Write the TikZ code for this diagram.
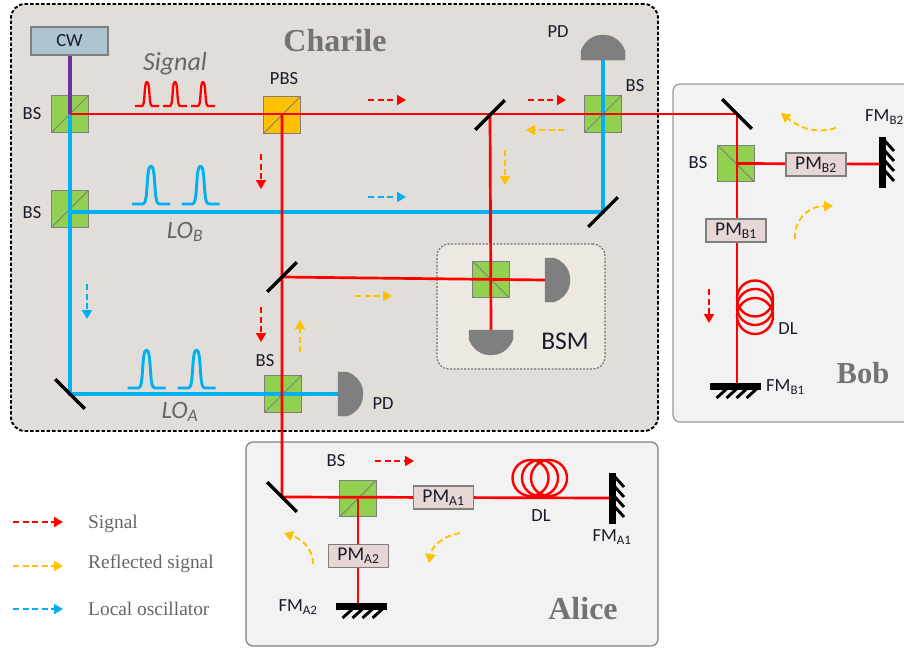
\documentclass[tikz,border=0pt]{standalone}
\usepackage{fontspec}
\setmainfont{Carlito}
\newfontfamily\serifl{Liberation Serif}
\usetikzlibrary{arrows.meta,calc}
\definecolor{cred}{HTML}{FF0000}
\definecolor{ccyan}{HTML}{00B0F0}
\definecolor{cyel}{HTML}{FFC000}
\definecolor{cpur}{HTML}{7030A0}
\definecolor{cgrn}{HTML}{92D050}
\definecolor{cedge}{HTML}{7F7F7F}
\definecolor{ctxt}{HTML}{1A1A2A}
\tikzset{
  x=1pt,y=-1pt,
  cubebase/.style={minimum size=36.5pt,inner sep=0pt,draw=cedge,line width=1.2pt,fill=cgrn},
  cubeup/.style={cubebase,path picture={\draw[cedge,line width=0.8pt] (path picture bounding box.south west)--(path picture bounding box.north east);}},
  cubedown/.style={cubebase,path picture={\draw[cedge,line width=0.8pt] (path picture bounding box.north west)--(path picture bounding box.south east);}},
  pmbox/.style={draw=cedge,line width=1.4pt,fill={rgb,255:red,230;green,214;blue,212},minimum width=60pt,minimum height=23pt,inner sep=0pt,font=\fontsize{19.5}{19.5}\selectfont,text=ctxt},
  lbl/.style={font=\fontsize{18.5}{18.5}\selectfont,text=ctxt,inner sep=0pt},
  title/.style={font=\serifl\bfseries,text=black!55,inner sep=0pt},
  beamr/.style={draw=cred,line width=2.7pt},
  beamc/.style={draw=ccyan,line width=3.2pt},
  legtxt/.style={font=\serifl\fontsize{19.4}{19.4}\selectfont,text=black!60,inner sep=0pt,anchor=west},
  dashr/.style={draw=cred,line width=1.9pt,dash pattern=on 6pt off 3.5pt,-{Triangle[length=9pt,width=10pt,fill=cred]}},
  dashy/.style={draw=cyel,line width=1.9pt,dash pattern=on 6pt off 3.5pt,-{Triangle[length=9pt,width=10pt,fill=cyel]}},
  dashc/.style={draw=ccyan,line width=1.9pt,dash pattern=on 6pt off 3.5pt,-{Triangle[length=9pt,width=10pt,fill=ccyan]}},
  pics/det/.style={code={\draw[draw=cedge,fill=cedge] (-22,0)--(-22,-9) .. controls (-18,-20) and (-9,-25) .. (0,-25) .. controls (9,-25) and (18,-20) .. (22,-9)--(22,0)--cycle;}},
  pics/mir/.style={code={\draw[black,line width=3.2pt] (-21,0)--(21,0);}},
  pics/fm/.style={code={
    \fill[black] (-25.5,0) rectangle (25.5,6.5);
    \foreach \q in {-18,-8,2,12}{\draw[black,line width=2.9pt] (\q+9,6)--(\q-1,15);}
  }},
  pics/pulse/.style 2 args={code={\draw[line width=#2*0.045pt+1.2pt,line join=round] (-#1,0)--(-#1*0.42,0) .. controls (-#1*0.12,0) and (-#1*0.28,-#2) .. (0,-#2) .. controls (#1*0.28,-#2) and (#1*0.12,0) .. (#1*0.42,0)--(#1,0);}},
}
\begin{document}
\begin{tikzpicture}
\path[use as bounding box,clip] (0,0) rectangle (904,648);
\fill[white] (0,0) rectangle (904,648);
% panels
\node[draw=black,line width=1.9pt,dash pattern=on 3.5pt off 2pt,fill={rgb,255:red,225;green,221;blue,217},rounded corners=14pt,minimum width=647pt,minimum height=427pt,inner sep=0pt] (charlie) at (334.5,217.5) {};
\node[draw=black!40,line width=1.2pt,fill={rgb,255:red,242;green,242;blue,242},rounded corners=7pt,minimum width=260pt,minimum height=338pt,inner sep=0pt] (bob) at (803,253) {};
\node[draw=black!50,line width=1.2pt,fill={rgb,255:red,242;green,242;blue,242},rounded corners=7pt,minimum width=412pt,minimum height=204pt,inner sep=0pt] (alice) at (452,544) {};
\node[draw=black!55,line width=1.2pt,dash pattern=on 2pt off 1.5pt,fill={rgb,255:red,237;green,232;blue,226},rounded corners=12pt,minimum width=168pt,minimum height=125pt,inner sep=0pt] (bsm) at (521,306.5) {};
% titles
\node[title,font=\serifl\bfseries\fontsize{32}{32}\selectfont] (tcharlie) at (335,41) {Charile};
\node[title,font=\serifl\bfseries\fontsize{30.5}{30.5}\selectfont] (tbob) at (863,373) {Bob};
\node[title,font=\serifl\bfseries\fontsize{32}{32}\selectfont] (talice) at (583,609) {Alice};
% optical elements
\node[draw=cedge,line width=1.4pt,fill={rgb,255:red,174;green,196;blue,209},minimum width=77pt,minimum height=28pt,inner sep=0pt,lbl] (cw) at (69.5,41) {CW};
\node[cubeup] (bsa) at (70,114) {};
\node[cubeup] (bsb) at (70,209) {};
\node[cubeup,fill=cyel] (pbs) at (282,115) {};
\node[cubeup] (bsc) at (603,114) {};
\node[cubeup] (bsd) at (283,394) {};
\node[cubedown] (bse) at (491,279.5) {};
\node[cubedown] (bsf) at (736,163.5) {};
\node[cubeup] (bsg) at (358,498.5) {};
% anchor points
\coordinate (ma) at (490,115);
\coordinate (mb) at (603,212);
\coordinate (mc) at (282,277);
\coordinate (md) at (70,394);
\coordinate (me) at (737,114);
\coordinate (mf) at (282,497);
\coordinate (pda) at (603,60);
\coordinate (pdb) at (338,394);
\coordinate (pdc) at (545,280);
\coordinate (pdd) at (491,330);
\coordinate (fba) at (737,383);
\coordinate (fbb) at (879,164);
\coordinate (faa) at (609,498);
\coordinate (fab) at (358,604);
% blue beams
\draw[beamc] (bsa.center)--(md)--(pdb);
\draw[beamc] (bsb.center |- 0,212)--(mb)--(pda);
% purple
\draw[draw=cpur,line width=3.6pt] (bsa.center |- cw.south)--(bsa.center);
% red beams
\draw[beamr] (bsa.center)--(me)--(fba);
\draw[beamr] (pbs.center)--(mf)--(faa);
\draw[beamr] (ma)--(pdd);
\draw[beamr] (mc)--(pdc);
\draw[beamr] (bsf.center)--(fbb);
\draw[beamr] (bsg.center)--(fab);
% delay lines
\foreach \yy in {298.5,307,316}{\draw[cred,line width=2.4pt] (755,\yy) circle[radius=18];}
\foreach \xx in {530.5,540,549}{\draw[cred,line width=2.4pt] (\xx,478) circle[radius=18];}
% mirrors
\pic[rotate=45] at (ma) {mir};
\pic[rotate=45] at (mb) {mir};
\pic[rotate=45] at (mc) {mir};
\pic[rotate=-45] at (md) {mir};
\pic[rotate=-45] at (me) {mir};
\pic[rotate=-45] at (mf) {mir};
% detectors
\pic at (pda) {det};
\pic[rotate=-90] at (pdb) {det};
\pic[rotate=-90] at (pdc) {det};
\pic[rotate=180] at (pdd) {det};
% Faraday mirrors
\pic at (735.5,383) {fm};
\pic[rotate=90] at (879,162) {fm};
\pic[rotate=90] at (faa) {fm};
\pic at (361.5,603) {fm};
% phase modulators
\node[pmbox] (pmb2) at (816,164.5) {PM\textsubscript{B2}};
\node[pmbox] (pmb1) at (736,230.5) {PM\textsubscript{B1}};
\node[pmbox] (pma1) at (443.5,497.5) {PM\textsubscript{A1}};
\node[pmbox] (pma2) at (358.5,556) {PM\textsubscript{A2}};
% pulses
\pic[draw=cred] at (147,106) {pulse={12}{24}};
\pic[draw=cred] at (175,106) {pulse={12}{24}};
\pic[draw=cred] at (203,106) {pulse={12}{24}};
\pic[draw=ccyan] at (151,204) {pulse={19}{38}};
\pic[draw=ccyan] at (200.5,204) {pulse={19}{38}};
\pic[draw=ccyan] at (146.5,388) {pulse={19}{38}};
\pic[draw=ccyan] at (196.5,388) {pulse={19}{38}};
% labels
\node[lbl] (l1) at (32,114) {BS};
\node[lbl] (l2) at (32,213) {BS};
\node[lbl] (l3) at (284,79) {PBS};
\node[lbl] (l4) at (558,32) {PD};
\node[lbl] (l5) at (635,86) {BS};
\node[lbl] (l6) at (265,361) {BS};
\node[lbl] (l7) at (383,404) {PD};
\node[lbl] (l8) at (698,163) {BS};
\node[lbl] (l9) at (336,461) {BS};
\node[lbl] (l10) at (788,329) {DL};
\node[lbl] (l11) at (541,516) {DL};
\node[lbl,anchor=west] (l12) at (865,117) {FM\textsubscript{B2}};
\node[lbl,anchor=west] (l13) at (766,387) {FM\textsubscript{B1}};
\node[lbl] (l14) at (612,537) {FM\textsubscript{A1}};
\node[lbl] (l15) at (298,607) {FM\textsubscript{A2}};
\node[inner sep=0pt,font=\fontsize{25.5}{25.5}\selectfont,text=ctxt] (l16) at (565,341) {BSM};
\node[inner sep=0pt,font=\itshape\fontsize{26}{26}\selectfont,text=black!60] (l17) at (175,64) {Signal};
\node[inner sep=0pt,font=\itshape\fontsize{25}{25}\selectfont,text=black!60] (l18) at (185,232) {LO\textsubscript{B}};
\node[inner sep=0pt,font=\itshape\fontsize{25}{25}\selectfont,text=black!60] (l19) at (180,412) {LO\textsubscript{A}};
% direction arrows
\draw[dashr] (368,100)--(406,100);
\draw[dashr] (528,100)--(566,100);
\draw[dashr] (261,154)--(261,189);
\draw[dashr] (261,307)--(261,342);
\draw[dashr] (709,289)--(709,323);
\draw[dashr] (375,461)--(414,461);
\draw[dashy] (564,130)--(526,130);
\draw[dashy] (505,150)--(505,185);
\draw[dashy] (355,296)--(392,296);
\draw[dashy] (300,352)--(300,320);
\draw[dashc] (368,197)--(406,197);
\draw[dashc] (87,284)--(87,319);
\draw[dashy] (836,128) .. controls (815,134) and (800,128) .. (781,113);
\draw[dashy] (795,239) .. controls (794,220) and (808,206) .. (833,206);
\draw[dashy] (313,564) .. controls (313,550) and (304,540) .. (284,533);
\draw[dashy] (460,533) .. controls (443,536) and (432,546) .. (429,563);
% legend
\coordinate (lra) at (13,522);\coordinate (lrb) at (63,522);
\coordinate (lya) at (13,566);\coordinate (lyb) at (63,566);
\coordinate (lca) at (13,609);\coordinate (lcb) at (63,609);
\draw[dashr] (lra)--(lrb);
\draw[dashy] (lya)--(lyb);
\draw[dashc] (lca)--(lcb);
\node[legtxt] (t1) at (88,524) {Signal};
\node[legtxt] (t2) at (88,564) {Reflected signal};
\node[legtxt] (t3) at (88,609) {Local oscillator};
\end{tikzpicture}
\end{document}
